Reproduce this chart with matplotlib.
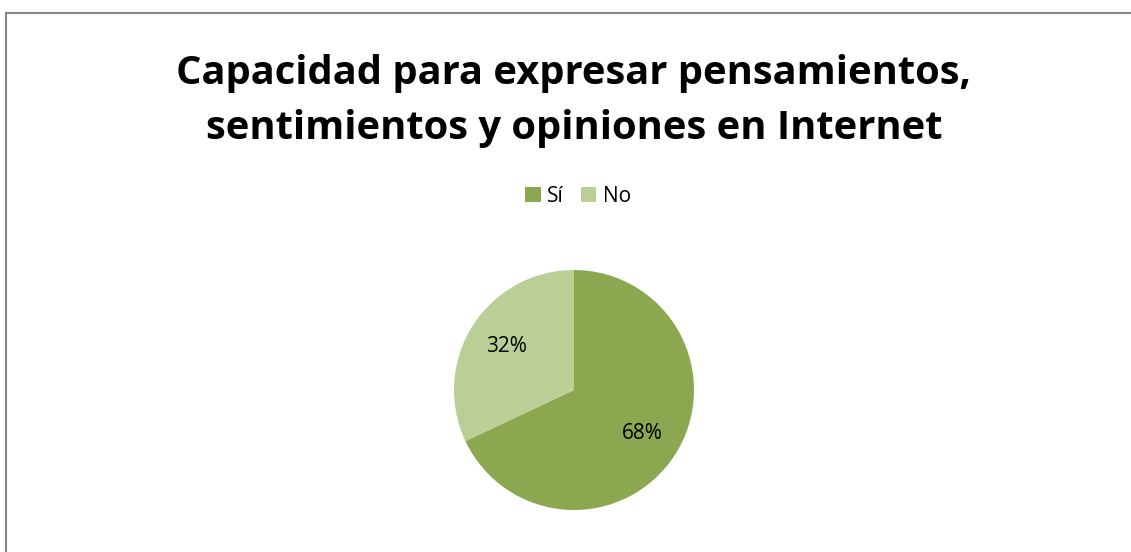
import matplotlib.pyplot as plt
from matplotlib.patches import Patch
from matplotlib.lines import Line2D

# Datos de la encuesta
categorias = ["Sí", "No"]
valores = [68, 32]
colores = ["#8BA851", "#B9CF96"]

titulo = "Capacidad para expresar pensamientos,\nsentimientos y opiniones en Internet"

plt.rcParams['font.family'] = ['Open Sans', 'DejaVu Sans']

fig = plt.figure(figsize=(11.31, 5.52), dpi=100)
fig.patch.set_facecolor("white")

# Marco del gráfico (sólo borde superior e izquierdo visibles)
W, H = 1131, 552
x0, y0 = 6 / W, 1 - 13 / H
fig.add_artist(Line2D([x0, 1.0], [y0, y0], transform=fig.transFigure,
                      color="#868686", linewidth=1.5))
fig.add_artist(Line2D([x0, x0], [0.0, y0], transform=fig.transFigure,
                      color="#868686", linewidth=1.5))

fig.text(574 / W, 1 - 101 / H, titulo, ha="center", va="center",
         fontsize=28.7, fontweight="bold", linespacing=1.55)

# Pastel
cx, cy, r = 574 / W, 1 - 390 / H, 120
ax = fig.add_axes([cx - r / W, cy - r / H, 2 * r / W, 2 * r / H])
wedges, textos = ax.pie(valores, colors=colores, startangle=90, counterclock=False,
                        labels=[f"{v}%" for v in valores], labeldistance=0.67,
                        textprops=dict(fontsize=15, ha="center", va="center"))
ax.set_xlim(-1, 1)
ax.set_ylim(-1, 1)
ax.set_aspect("equal")

handles = [Patch(facecolor=c, edgecolor="none") for c in colores]
fig.legend(handles, categorias, loc="center", bbox_to_anchor=(578 / W, 1 - 196 / H),
           ncol=2, frameon=False, fontsize=15, handlelength=0.75, handleheight=0.75,
           handletextpad=0.3, columnspacing=0.8)

fig.savefig("out.png", dpi=100)
